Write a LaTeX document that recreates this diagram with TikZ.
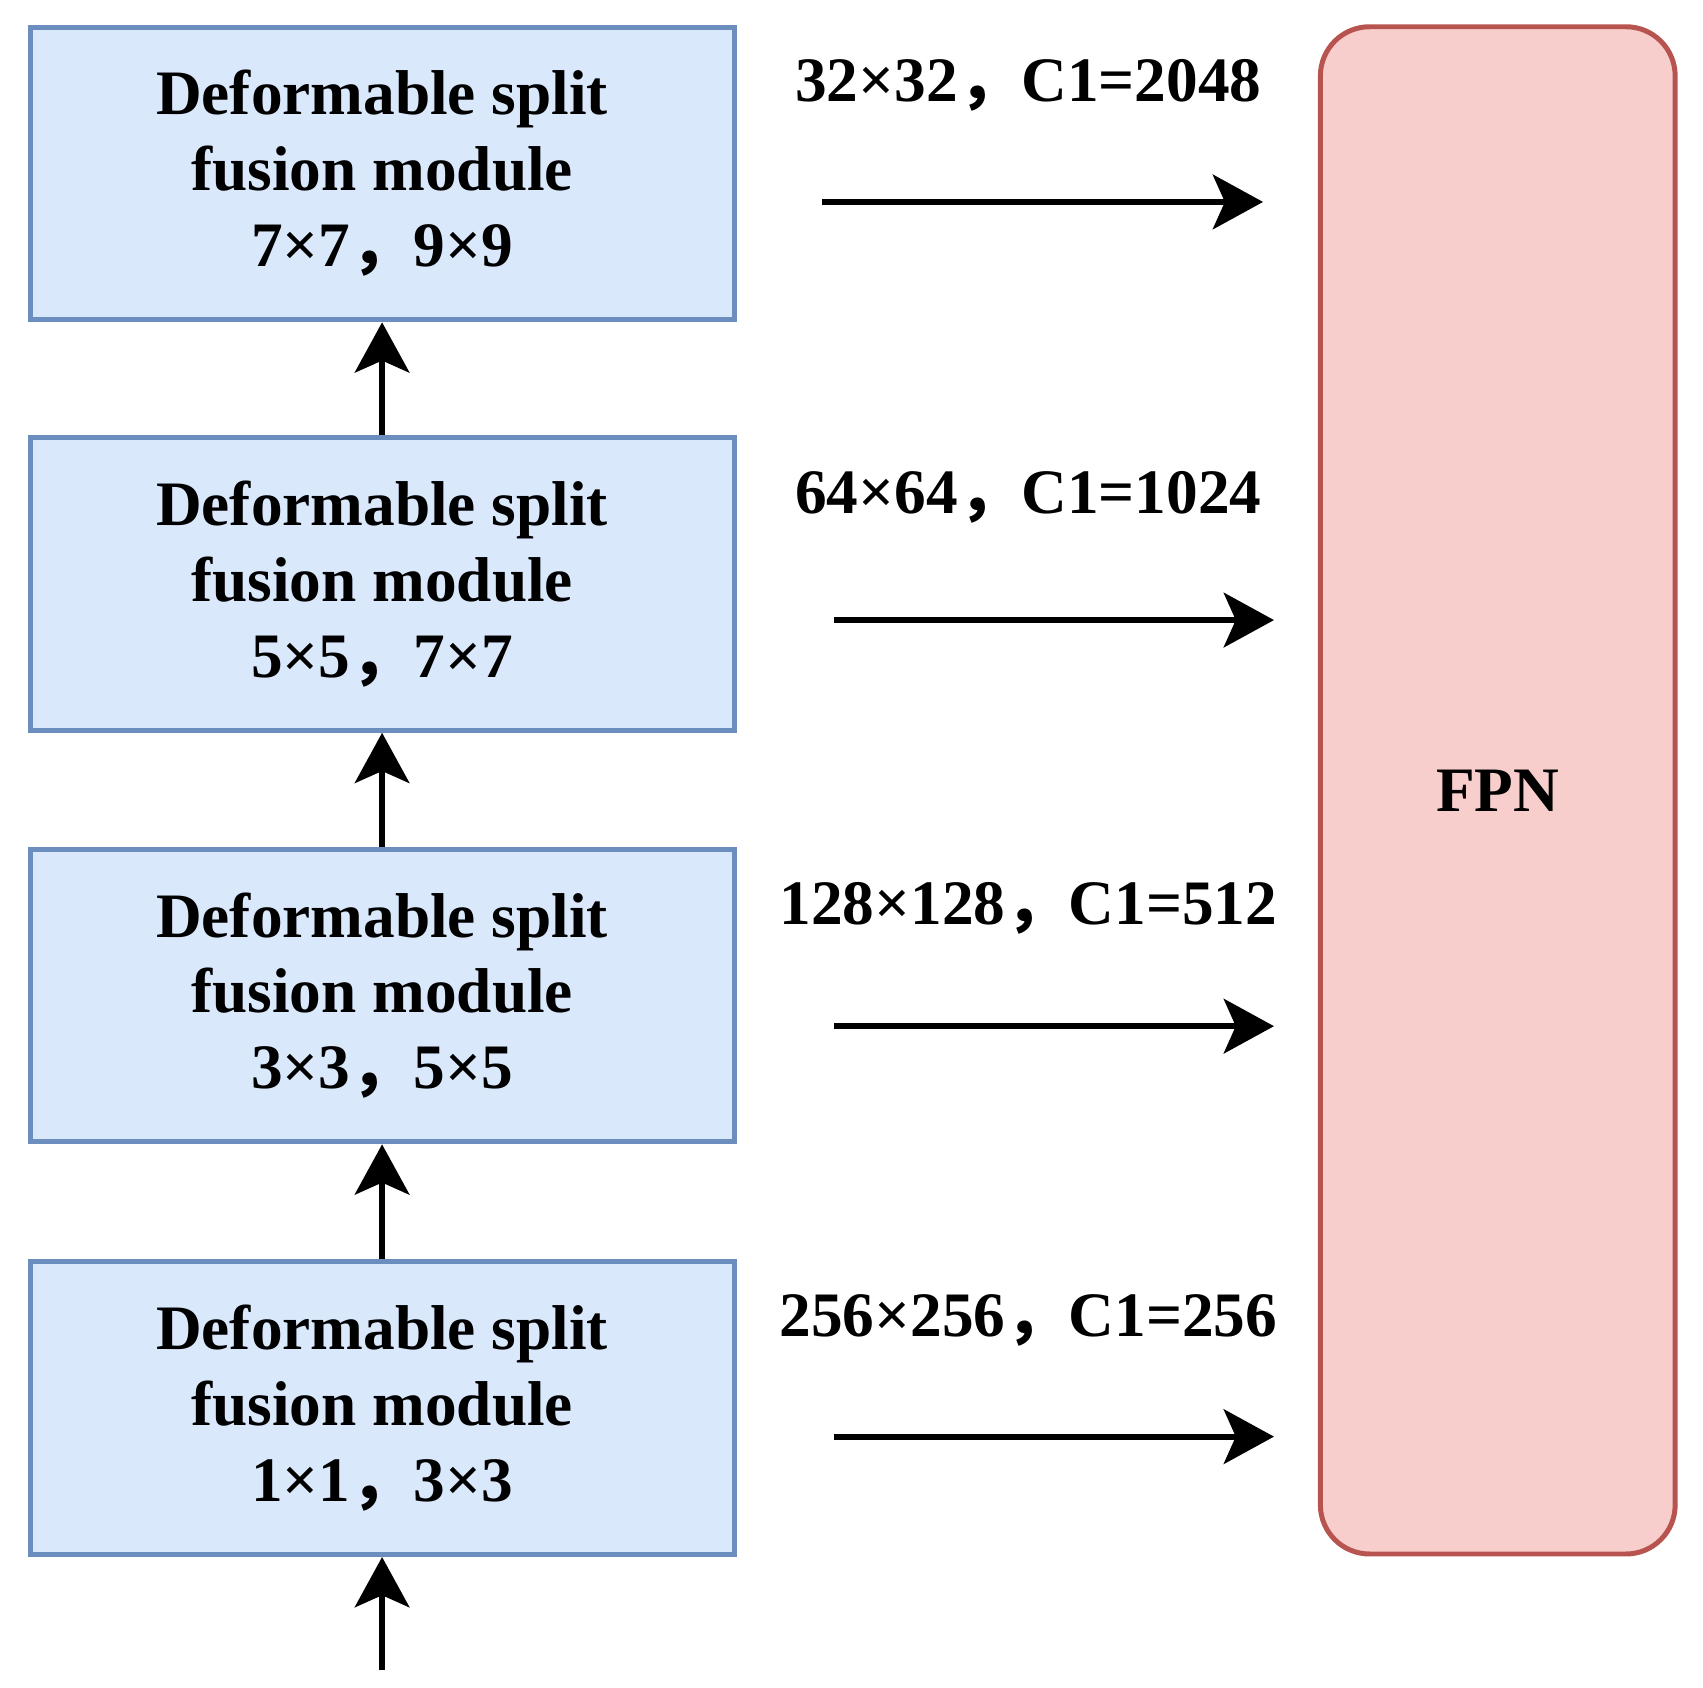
\documentclass[tikz,border=0pt]{standalone}
\usepackage{fontspec}
\setmainfont{Liberation Serif}
\newfontfamily\cjk{Noto Sans CJK SC}
\usetikzlibrary{arrows.meta}
\definecolor{bluefill}{HTML}{DAE8FC}
\definecolor{blueline}{HTML}{6C8EBF}
\definecolor{redfill}{HTML}{F8CECC}
\definecolor{redline}{HTML}{B85450}
\newcommand{\bigbf}{\fontsize{16.5}{19.8}\selectfont\bfseries}
\newcommand{\wcomma}{{\cjk\bfseries ，}}

\begin{document}
\begin{tikzpicture}[x=0.1mm,y=-0.1mm]
	\tikzstyle{dsfm}=[rectangle,draw=blueline,fill=bluefill,line width=1.3pt,minimum width=6.45cm,minimum height=2.68cm,align=center,font=\bigbf]
	\tikzstyle{fpn}=[rectangle,rounded corners=0.45cm,draw=redline,fill=redfill,line width=1.3pt,minimum width=3.25cm,minimum height=13.99cm,font=\bigbf]
	\tikzstyle{size}=[font=\bigbf]
	\tikzstyle{arr}=[-{Stealth[length=4.6mm,width=5mm,inset=1.1mm]},line width=1.5pt]
	\useasboundingbox (0,0) rectangle (1560,1546);
	\node[dsfm] (m1) at (350,1290){Deformable split\\fusion module\\1×1\wcomma 3×3};
	\node[dsfm] (m2) at (350,912){Deformable split\\fusion module\\3×3\wcomma 5×5};
	\node[dsfm] (m3) at (350,535){Deformable split\\fusion module\\5×5\wcomma 7×7};
	\node[dsfm] (m4) at (350,159){Deformable split\\fusion module\\7×7\wcomma 9×9};
	\node[fpn] (fpn) at (1372,724){FPN};
	\coordinate (in) at (350,1530);
	\draw[arr] (in) -- (m1.south);
	\draw[arr] (m1.north) -- (m2.south);
	\draw[arr] (m2.north) -- (m3.south);
	\draw[arr] (m3.north) -- (m4.south);
	\coordinate (o1) at (764,1316);
	\coordinate (f1) at (1167,1316);
	\coordinate (o2) at (764,940);
	\coordinate (f2) at (1167,940);
	\coordinate (o3) at (764,568);
	\coordinate (f3) at (1167,568);
	\coordinate (o4) at (753,185);
	\coordinate (f4) at (1157,185);
	\draw[arr] (o1) -- (f1);
	\draw[arr] (o2) -- (f2);
	\draw[arr] (o3) -- (f3);
	\draw[arr] (o4) -- (f4);
	\node[size] (s1) at (942,1210){256×256\wcomma C1=256};
	\node[size] (s2) at (942,832){128×128\wcomma C1=512};
	\node[size] (s3) at (942,456){64×64\wcomma C1=1024};
	\node[size] (s4) at (942,78){32×32\wcomma C1=2048};
\end{tikzpicture}
\end{document}
